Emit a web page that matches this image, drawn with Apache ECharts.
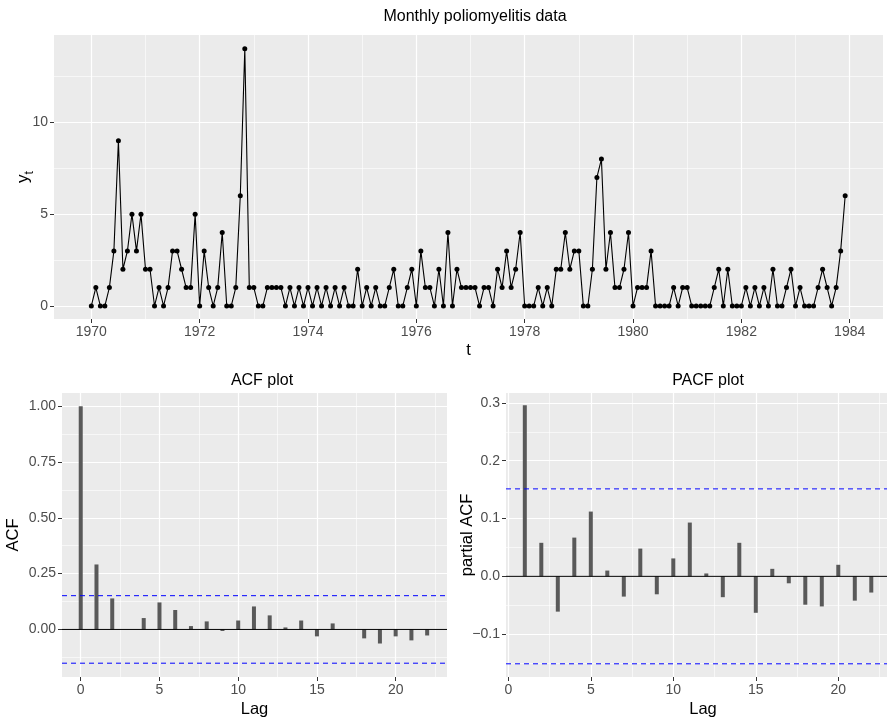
<!DOCTYPE html>
<html><head><meta charset="utf-8">
<script src="https://cdn.jsdelivr.net/npm/echarts@6/dist/echarts.min.js"></script>
<style>html,body{margin:0;padding:0;background:#fff}#chart{width:887px;height:720px}</style>
</head><body><div id="chart"></div>
<script>
// ---- data ----
const startYear = 1970;
const polioCases = [
  0,1,0,0,1,3,9,2,3,5,3,5,
  2,2,0,1,0,1,3,3,2,1,1,5,
  0,3,1,0,1,4,0,0,1,6,14,1,
  1,0,0,1,1,1,1,0,1,0,1,0,
  1,0,1,0,1,0,1,0,1,0,0,2,
  0,1,0,1,0,0,1,2,0,0,1,2,
  0,3,1,1,0,2,0,4,0,2,1,1,
  1,1,0,1,1,0,2,1,3,1,2,4,
  0,0,0,1,0,1,0,2,2,4,2,3,
  3,0,0,2,7,8,2,4,1,1,2,4,
  0,1,1,1,3,0,0,0,0,1,0,1,
  1,0,0,0,0,0,1,2,0,2,0,0,
  0,1,0,1,0,1,0,2,0,0,1,2,
  0,1,0,0,0,1,2,1,0,1,3,6
];
const acfLags = [0,1,2,3,4,5,6,7,8,9,10,11,12,13,14,15,16,17,18,19,20,21,22];
const acfValues = [1.000,0.291,0.139,0.000,0.051,0.121,0.087,0.015,0.036,-0.007,0.040,0.103,0.063,0.009,0.040,-0.031,0.027,0.000,-0.040,-0.063,-0.031,-0.049,-0.027];
const pacfLags = [1,2,3,4,5,6,7,8,9,10,11,12,13,14,15,16,17,18,19,20,21,22];
const pacfValues = [0.296,0.058,-0.061,0.067,0.112,0.010,-0.035,0.048,-0.031,0.031,0.093,0.005,-0.036,0.058,-0.063,0.013,-0.012,-0.049,-0.052,0.020,-0.042,-0.028];
const ciBound = 0.1512;

const yearTicks = [1970,1972,1974,1976,1978,1980,1982,1984];
const yearMinor = [1971,1973,1975,1977,1979,1981,1983];
const countTicks = [0,5,10];
const countMinor = [2.5,7.5,12.5];
const lagTicks = [0,5,10,15,20];
const lagMinor = [2.5,7.5,12.5,17.5,22.5];
const acfTicks = [0,0.25,0.5,0.75,1];
const acfMinor = [-0.125,0.125,0.375,0.625,0.875];
const pacfTicks = [-0.1,0,0.1,0.2,0.3];
const pacfMinor = [-0.15,-0.05,0.05,0.15,0.25];

// axis ranges
const tRange = [1969.311, 1984.615], countRange = [-0.708, 14.75];
const acfLagRange = [-1.19, 23.26], acfRange = [-0.213, 1.059];
const pacfLagRange = [-0.14, 23.74], pacfRange = [-0.174, 0.317];

// ---- styling helpers ----
const FONT = '"Liberation Sans", Arial, Helvetica, sans-serif';
const tickStyle = {show:true, length:4, lineStyle:{color:'#333333', width:1}};
const labelStyle = {color:'#4D4D4D', fontSize:14, fontFamily:FONT};
const nameStyle = {color:'#000', fontSize:16.5, fontFamily:FONT};

function mainAxis(gridIndex, range, ticks, fmt, extra) {
  return Object.assign({
    type:'value', gridIndex, min:range[0], max:range[1],
    axisLine:{show:false, onZero:false},
    axisTick:Object.assign({customValues:ticks}, tickStyle),
    axisLabel:Object.assign({customValues:ticks, formatter:fmt, margin:6}, labelStyle),
    splitLine:{show:true, lineStyle:{color:'#FFFFFF', width:1.2}},
    nameMoveOverlap:false,
    nameTextStyle:nameStyle
  }, extra || {});
}
function minorAxis(gridIndex, range, ticks, pos) {
  return {
    type:'value', gridIndex, min:range[0], max:range[1], position:pos,
    axisLine:{show:false, onZero:false},
    axisTick:{show:false, customValues:ticks},
    axisLabel:{show:false, customValues:ticks},
    splitLine:{show:true, lineStyle:{color:'#FFFFFF', width:0.6}}
  };
}
const fmtInt = v => String(Math.round(v));
const fmt2 = v => v.toFixed(2);
const fmt1 = v => (v < 0 ? '\u2212' : '') + Math.abs(v).toFixed(1);

// horizontal reference line drawn as a 2-point line series across the lag axis
function hline(xi, yi, xRange, yVal, color, type, z) {
  return {
    type:'line', xAxisIndex:xi, yAxisIndex:yi, silent:true, z:z,
    data:[[xRange[0], yVal], [xRange[1], yVal]],
    symbol:'none', showSymbol:false,
    lineStyle:{color:color, type:type, width:1},
    itemStyle:{color:color}
  };
}

const option = {
  animation:false,
  backgroundColor:'#FFFFFF',
  title:[
    {text:'Monthly poliomyelitis data', left:470, top:4, textAlign:'center',
     textStyle:{fontSize:16, fontWeight:'normal', color:'#000', fontFamily:FONT}},
    {text:'ACF plot', left:257, top:368, textAlign:'center',
     textStyle:{fontSize:16, fontWeight:'normal', color:'#000', fontFamily:FONT}},
    {text:'PACF plot', left:703, top:368, textAlign:'center',
     textStyle:{fontSize:16, fontWeight:'normal', color:'#000', fontFamily:FONT}}
  ],
  grid:[
    {left:54, top:35, width:829, height:284, show:true, backgroundColor:'#EBEBEB', borderWidth:0, containLabel:false, outerBoundsMode:'none'},
    {left:62, top:393, width:385, height:284, show:true, backgroundColor:'#EBEBEB', borderWidth:0, containLabel:false, outerBoundsMode:'none'},
    {left:506, top:393, width:394, height:284, show:true, backgroundColor:'#EBEBEB', borderWidth:0, containLabel:false, outerBoundsMode:'none'}
  ],
  xAxis:[
    mainAxis(0, tRange, yearTicks, fmtInt, {name:'t', nameLocation:'middle', nameGap:23}),
    minorAxis(0, tRange, yearMinor, 'bottom'),
    mainAxis(1, acfLagRange, lagTicks, fmtInt, {name:'Lag', nameLocation:'middle', nameGap:24}),
    minorAxis(1, acfLagRange, lagMinor, 'bottom'),
    mainAxis(2, pacfLagRange, lagTicks, fmtInt, {name:'Lag', nameLocation:'middle', nameGap:24}),
    minorAxis(2, pacfLagRange, lagMinor, 'bottom')
  ],
  yAxis:[
    mainAxis(0, countRange, countTicks, fmtInt, {
      name:'{a|y}{b|t}', nameLocation:'middle', nameRotate:90, nameGap:18,
      nameTextStyle:{fontFamily:FONT, color:'#000',
        rich:{a:{fontSize:17, fontFamily:FONT, color:'#000', padding:[0,0,4,0]},
              b:{fontSize:12, fontFamily:FONT, color:'#000', verticalAlign:'bottom'}}}
    }),
    minorAxis(0, countRange, countMinor, 'left'),
    mainAxis(1, acfRange, acfTicks, fmt2, {name:'ACF', nameLocation:'middle', nameRotate:90, nameGap:40}),
    minorAxis(1, acfRange, acfMinor, 'left'),
    mainAxis(2, pacfRange, pacfTicks, fmt1, {name:'partial ACF', nameLocation:'middle', nameRotate:90, nameGap:30}),
    minorAxis(2, pacfRange, pacfMinor, 'left')
  ],
  series:[
    {
      type:'line', xAxisIndex:0, yAxisIndex:0,
      data:polioCases.map((v,i) => [startYear + i/12, v]),
      lineStyle:{color:'#000', width:1.1},
      symbol:'circle', symbolSize:5, showSymbol:true,
      itemStyle:{color:'#000'}, z:5
    },
    {
      type:'bar', xAxisIndex:2, yAxisIndex:2,
      data:acfLags.map((l,i) => [l, acfValues[i]]),
      barWidth:4, itemStyle:{color:'#595959'}, z:2
    },
    hline(2, 2, acfLagRange, 0, '#000000', 'solid', 3),
    hline(2, 2, acfLagRange, ciBound, '#0000FF', [5,4], 4),
    hline(2, 2, acfLagRange, -ciBound, '#0000FF', [5,4], 4),
    {
      type:'bar', xAxisIndex:4, yAxisIndex:4,
      data:pacfLags.map((l,i) => [l, pacfValues[i]]),
      barWidth:4, itemStyle:{color:'#595959'}, z:2
    },
    hline(4, 4, pacfLagRange, 0, '#000000', 'solid', 3),
    hline(4, 4, pacfLagRange, ciBound, '#0000FF', [5,4], 4),
    hline(4, 4, pacfLagRange, -ciBound, '#0000FF', [5,4], 4)
  ]
};
const chart = echarts.init(document.getElementById('chart'), null, {renderer:'canvas'});
chart.setOption(option);
</script>
</body></html>
